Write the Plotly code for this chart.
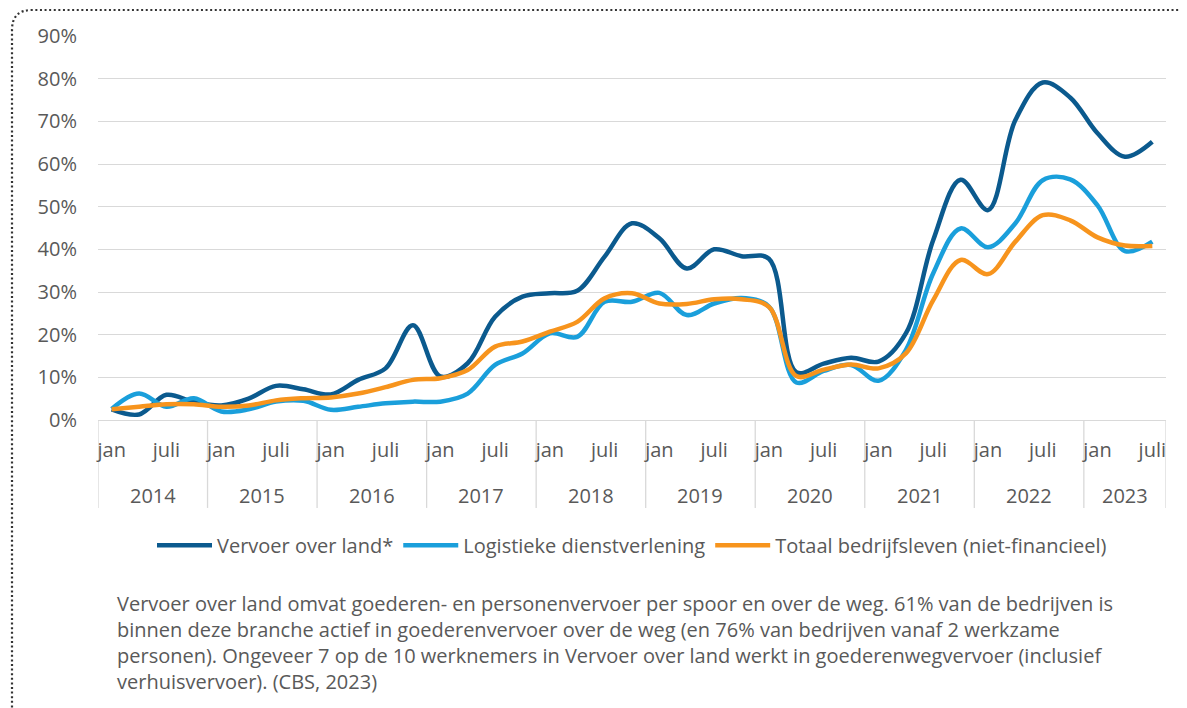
import plotly.graph_objects as go

# ---------------- data ----------------
years = ["2014", "2015", "2016", "2017", "2018", "2019", "2020", "2021", "2022", "2023"]
quarters_per_year = [4, 4, 4, 4, 4, 4, 4, 4, 4, 3]
quarter_labels = ["jan", "", "juli", ""]

vervoer_over_land = [
    2.5, 1.3, 5.9, 4.2,
    3.4, 5.0, 8.0, 7.2,
    6.0, 9.4, 12.1, 22.2,
    10.2, 13.3, 24.2, 28.9,
    29.7, 30.3, 38.3, 46.1,
    42.6, 35.5, 40.0, 38.4,
    37.8, 11.2, 13.2, 14.6,
    13.7, 20.3, 42.2, 56.3,
    49.2, 70.3, 79.1, 75.6,
    67.2, 61.7, 65.2,
]
logistieke_dienstverlening = [
    2.6, 6.2, 3.1, 5.1,
    2.0, 2.5, 4.3, 4.5,
    2.4, 3.1, 3.9, 4.3,
    4.3, 6.2, 12.9, 15.6,
    20.3, 19.5, 27.7, 27.7,
    29.8, 24.6, 27.3, 28.6,
    26.6, 8.8, 11.5, 12.9,
    9.2, 16.4, 34.4, 44.9,
    40.5, 46.1, 56.2, 56.4,
    50.3, 39.6, 41.8,
]
totaal_bedrijfsleven = [
    2.5, 3.1, 3.7, 3.7,
    3.1, 3.4, 4.6, 5.1,
    5.3, 6.2, 7.7, 9.4,
    9.8, 11.7, 17.2, 18.4,
    20.7, 23.0, 28.5, 29.7,
    27.3, 27.2, 28.3, 28.3,
    26.5, 10.3, 11.8, 13.0,
    12.1, 15.6, 28.1, 37.5,
    34.2, 41.8, 48.0, 46.8,
    42.8, 40.9, 40.8,
]

series_names = ["Vervoer over land*", "Logistieke dienstverlening", "Totaal bedrijfsleven (niet-financieel)"]
series_values = [vervoer_over_land, logistieke_dienstverlening, totaal_bedrijfsleven]
series_colors = ["#0b5a8e", "#1a9fdb", "#f7941d"]

y_ticks = [0, 10, 20, 30, 40, 50, 60, 70, 80, 90]

footnote = ("Vervoer over land omvat goederen- en personenvervoer per spoor en over de weg. 61% van de bedrijven is<br>"
            "binnen deze branche actief in goederenvervoer over de weg (en 76% van bedrijven vanaf 2 werkzame<br>"
            "personen). Ongeveer 7 op de 10 werknemers in Vervoer over land werkt in goederenwegvervoer (inclusief<br>"
            "verhuisvervoer). (CBS, 2023)")

# ---------------- derived ----------------
period_text = []
year_start = []
for q in quarters_per_year:
    year_start.append(len(period_text))
    period_text += quarter_labels[:q]
x_idx = list(range(len(period_text)))
tick_vals = [i for i, t in enumerate(period_text) if t]
tick_text = [t for t in period_text if t]
boundaries = [s - 0.5 for s in year_start] + [len(period_text) - 0.5]
year_centers = [s + (q - 1) / 2 for s, q in zip(year_start, quarters_per_year)]

TEXT = "#595959"
GRID = "#d9d9d9"
FONT = "Open Sans"

fig = go.Figure()
for name, vals, col in zip(series_names, series_values, series_colors):
    fig.add_trace(go.Scatter(
        x=x_idx, y=vals, name=name, mode="lines",
        line=dict(color=col, width=4.5, shape="spline", smoothing=1.0),
    ))

# year dividers
for b in boundaries:
    fig.add_shape(type="line", xref="x", yref="paper", x0=b, x1=b, y0=0, y1=-0.229,
                  line=dict(color=GRID, width=1.3), layer="below")

# year labels
for yr, c in zip(years, year_centers):
    fig.add_annotation(x=c, xref="x", y=-0.196, yref="paper", text=yr, showarrow=False,
                       font=dict(family=FONT, size=20, color=TEXT), yanchor="middle", xanchor="center")

# footnote
fig.add_annotation(x=0.0155, xref="paper", y=-0.437, yref="paper", text=footnote, showarrow=False,
                   align="left", xanchor="left", yanchor="top",
                   font=dict(family=FONT, size=20, color=TEXT))

# dotted frame with rounded top-left corner (coordinates in window pixels)
pw, ph = 1068.0, 384.0
def px(x):
    return (x - 98) / pw
def py(y):
    return (420 - y) / ph
xl, yt, r = 12, 10, 20
path = (f"M {px(xl)},{py(712)} L {px(xl)},{py(yt + r)} "
        f"Q {px(xl)},{py(yt)} {px(xl + r)},{py(yt)} L {px(1190)},{py(yt)}")
fig.add_shape(type="path", xref="paper", yref="paper", path=path,
              line=dict(color="#333333", width=2.2, dash="2px,2.6px"))

# page body has an 8px margin: figure is 8px smaller, margins 8px smaller on left/top
fig.update_layout(
    width=1179, height=700,
    margin=dict(l=90, r=21, t=28, b=288),
    paper_bgcolor="white", plot_bgcolor="white",
    font=dict(family=FONT, size=20, color=TEXT),
    showlegend=True,
    legend=dict(orientation="h", x=0.5, xanchor="center", y=-0.326, yanchor="middle",
                font=dict(family=FONT, size=20, color=TEXT), itemwidth=55,
                tracegroupgap=0, bgcolor="rgba(0,0,0,0)"),
    xaxis=dict(
        range=[-0.5, len(period_text) - 0.5], tickmode="array", tickvals=tick_vals, ticktext=tick_text,
        showgrid=False, zeroline=False, showline=True, linecolor=GRID, linewidth=1.3,
        ticks="", ticklabelstandoff=12, tickfont=dict(family=FONT, size=20, color=TEXT),
    ),
    yaxis=dict(
        range=[0, 90], tickmode="array", tickvals=y_ticks, ticktext=[f"{v}%" for v in y_ticks],
        showgrid=True, gridcolor=GRID, gridwidth=1.3, zeroline=False, showline=False,
        ticks="", ticklabelstandoff=20, tickfont=dict(family=FONT, size=20, color=TEXT),
    ),
)

fig.write_html("out.html")
